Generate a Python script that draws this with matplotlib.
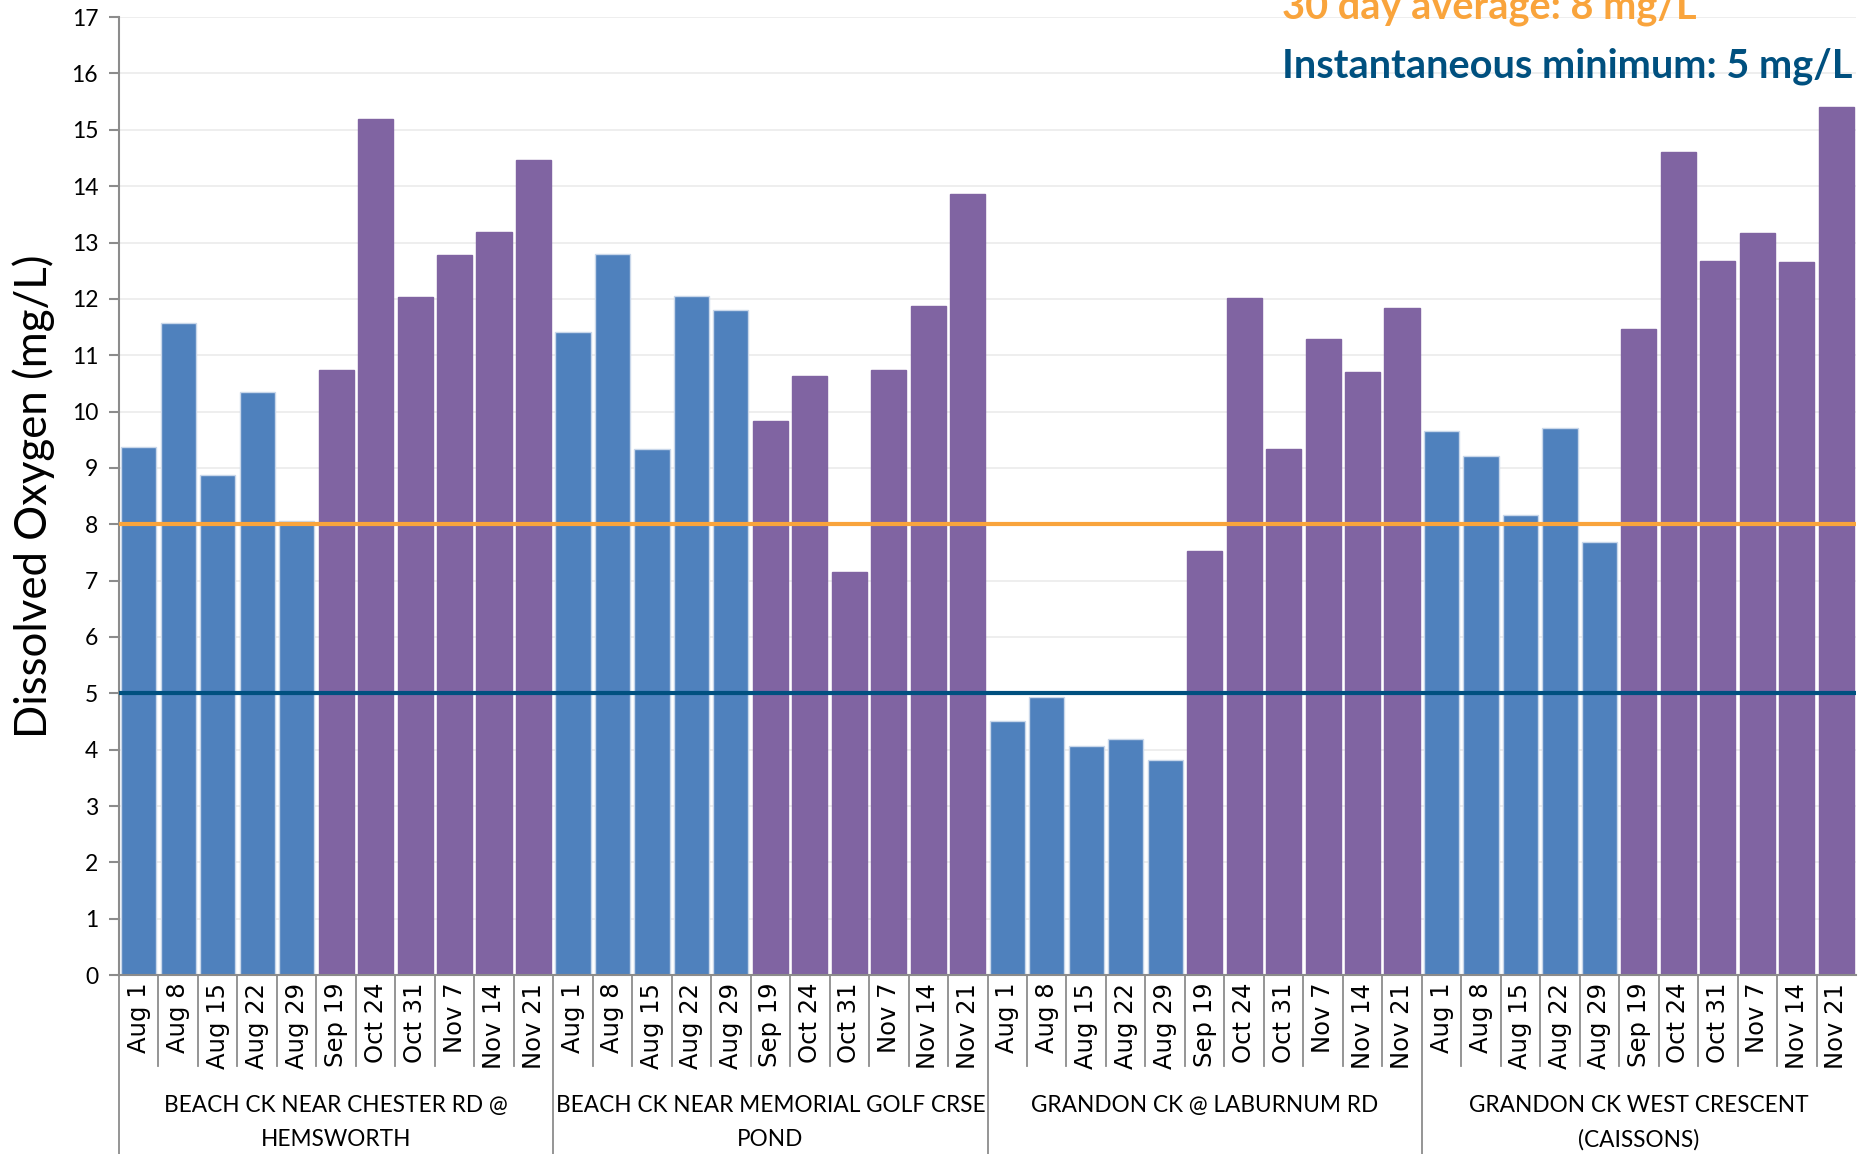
import numpy as np
import matplotlib.pyplot as plt
import matplotlib.transforms as mtransforms

# sampling dates (same for every site)
dates = ['Aug 1', 'Aug 8', 'Aug 15', 'Aug 22', 'Aug 29', 'Sep 19',
         'Oct 24', 'Oct 31', 'Nov 7', 'Nov 14', 'Nov 21']
n_summer = 5  # first five dates are the August samples (blue)

sites = ['BEACH CK NEAR CHESTER RD @\nHEMSWORTH',
         'BEACH CK NEAR MEMORIAL GOLF CRSE\nPOND',
         'GRANDON CK @ LABURNUM RD',
         'GRANDON CK WEST CRESCENT\n(CAISSONS)']

chester = [9.37, 11.57, 8.88, 10.35, 8.05, 10.74, 15.19, 12.03, 12.77, 13.19, 14.47]
golf = [11.42, 12.79, 9.33, 12.05, 11.80, 9.84, 10.64, 7.16, 10.74, 11.88, 13.86]
laburnum = [4.51, 4.93, 4.07, 4.19, 3.81, 7.52, 12.01, 9.33, 11.29, 10.70, 11.84]
caissons = [9.65, 9.21, 8.17, 9.71, 7.69, 11.46, 14.60, 12.68, 13.17, 12.66, 15.40]

avg_30day = 8
inst_min = 5

blue = '#4F81BD'
purple = '#8064A2'
orange = '#F9A43C'
navy = '#00507F'

all_vals = chester + golf + laburnum + caissons
n = len(dates)
x = np.arange(len(all_vals))
colors = [(blue if i % n < n_summer else purple) for i in x]
edges = [('#C9D7EA' if i % n < n_summer else purple) for i in x]

fig = plt.figure(figsize=(18.62, 11.54), dpi=100)
ax = fig.add_axes([0.0639, 0.155, 0.9329, 0.8302])

ax.bar(x, all_vals, width=0.89, color=colors, edgecolor=edges, linewidth=1.0, zorder=2)
ax.axhline(avg_30day, color=orange, lw=3, zorder=3)
ax.axhline(inst_min, color=navy, lw=3, zorder=3)

ax.set_ylim(0, 17)
ax.set_xlim(-0.5, len(all_vals) - 0.5)
ax.set_yticks(range(0, 18))
ax.yaxis.grid(True, color='#EBEBEB', lw=1.2, zorder=0)
ax.set_axisbelow(True)
for s in ['top', 'right']:
    ax.spines[s].set_visible(False)
for s in ['left', 'bottom']:
    ax.spines[s].set_color('#8C8C8C')
    ax.spines[s].set_linewidth(1.5)
ax.tick_params(axis='y', length=7, width=1.5, color='#8C8C8C', labelsize=16.5, pad=8)
for lab in ax.get_yticklabels():
    lab.set_fontfamily('Lato')
ax.set_xticks([])

ax.set_ylabel('Dissolved Oxygen (mg/L)', fontsize=31.5, family='Lato', labelpad=12)

# multi-level category axis
trans = mtransforms.blended_transform_factory(ax.transData, ax.transAxes)
for i in range(len(all_vals)):
    ax.text(i, -0.008, dates[i % n], rotation=90, ha='center', va='top',
            fontsize=17.5, family='DejaVu Sans', transform=trans)
for b in range(1, len(all_vals)):
    bottom = -0.187 if b % n == 0 else -0.095
    ax.plot([b - 0.5, b - 0.5], [0, bottom], color='#8C8C8C', lw=1.3,
            transform=trans, clip_on=False)
ax.plot([-0.5, -0.5], [0, -0.187], color='#8C8C8C', lw=1.3, transform=trans, clip_on=False)
for g, name in enumerate(sites):
    ax.text(g * n + (n - 1) / 2, -0.125, name, ha='center', va='top',
            fontsize=16.3, family='Lato', linespacing=1.75, transform=trans)

# standards labels
fig.text(0.6885, 1.0 - 7 / 1154, '30 day average: 8 mg/L', color=orange,
         fontsize=28.6, fontweight='bold', family='Lato', va='center', ha='left')
fig.text(0.6885, 1.0 - 66 / 1154, 'Instantaneous minimum: 5 mg/L', color=navy,
         fontsize=28.6, fontweight='bold', family='Lato', va='center', ha='left')

fig.savefig('out.png', dpi=100)
